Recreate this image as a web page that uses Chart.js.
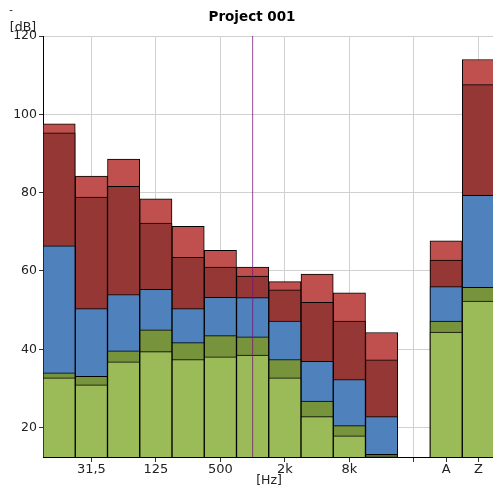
<!DOCTYPE html>
<html>
<head>
<meta charset="utf-8">
<script src="https://cdn.jsdelivr.net/npm/chart.js@4"></script>
<style>
html,body{margin:0;padding:0;background:#fff;overflow:hidden;}
#wrap{position:absolute;left:0;top:0;width:496px;height:488px;}
</style>
</head>
<body>
<div id="wrap"><canvas id="c" width="496" height="488"></canvas></div>
<script>
// Categories (octave bands + A / Z weighted totals)
const categories = ['16','31,5','63','125','250','500','1k','2k','4k','8k','16k','','A','Z'];
// Which category labels are shown on the axis
const shownLabels = ['31,5','125','500','2k','8k','A','Z'];
// Series values [dB] (each bar rises from the axis; smaller ones drawn in front)
const seriesL1 = [32.7, 30.9, 36.8, 39.4, 37.4, 38.1, 38.5, 32.7, 22.8, 17.9, 12.8, null, 44.4, 52.3];
const seriesL2 = [34.0, 33.1, 39.6, 45.0, 41.7, 43.5, 43.2, 37.4, 26.8, 20.5, 13.2, null, 47.2, 55.8];
const seriesL3 = [66.4, 50.4, 54.0, 55.3, 50.4, 53.3, 53.2, 47.2, 36.9, 32.3, 22.8, null, 56.0, 79.3];
const seriesL4 = [95.3, 78.9, 81.6, 72.2, 63.5, 61.0, 58.7, 55.2, 52.0, 47.2, 37.3, null, 62.8, 107.6];
const seriesL5 = [97.6, 84.2, 88.6, 78.4, 71.4, 65.3, 61.0, 57.3, 59.2, 54.4, 44.3, null, 67.7, 114.0];
// Y axis ticks
const yTicks = [20, 40, 60, 80, 100, 120];
const yMin = 12.5, yMax = 120;
// Marker band for the vertical line
const markerCategory = '1k';

const FONT = "'DejaVu Sans', Verdana, sans-serif";

const textPlugin = {
  id: 'texts',
  afterDatasetsDraw(chart) {
    const ctx = chart.ctx;
    const xs = chart.scales.x;
    const area = chart.chartArea;
    const xi = categories.indexOf(markerCategory);
    const px = xs.getPixelForValue(xi);
    ctx.save();
    ctx.strokeStyle = 'rgba(120,20,120,0.75)';
    ctx.lineWidth = 1;
    ctx.beginPath();
    ctx.moveTo(px, area.top);
    ctx.lineTo(px, area.bottom);
    ctx.stroke();
    ctx.restore();
  },
  afterDraw(chart) {
    const ctx = chart.ctx;
    ctx.save();
    ctx.fillStyle = '#000';
    ctx.textAlign = 'center';
    ctx.textBaseline = 'middle';
    ctx.font = "bold 13.5px " + FONT;
    ctx.fillText('Project 001', 252, 17.5);
    ctx.font = "12.5px " + FONT;
    ctx.fillStyle = '#222';
    ctx.fillText('[dB]', 23, 27.5);
    ctx.fillText('[Hz]', 269, 481);
    ctx.font = "10px " + FONT;
    ctx.fillText('-', 11, 10);
    ctx.restore();
  }
};

const mk = (label, data, color) => ({
  label, data,
  backgroundColor: color,
  borderColor: '#000',
  borderWidth: 1,
  borderSkipped: 'bottom',
  grouped: false,
  barPercentage: 1,
  categoryPercentage: 1
});

new Chart(document.getElementById('c'), {
  type: 'bar',
  data: {
    labels: categories,
    datasets: [
      mk('L1', seriesL1, '#9BBB59'),
      mk('L2', seriesL2, '#77933C'),
      mk('L3', seriesL3, '#4F81BD'),
      mk('L4', seriesL4, '#953735'),
      mk('L5', seriesL5, '#C0504D')
    ]
  },
  options: {
    responsive: false,
    animation: false,
    devicePixelRatio: 1,
    layout: { padding: { top: 36, right: 1.5, left: 0, bottom: 0 } },
    plugins: { legend: { display: false }, tooltip: { enabled: false }, title: { display: false } },
    scales: {
      x: {
        offset: true,
        afterFit(s) { s.height = 31; },
        grid: {
          offset: false,
          color: (c) => (c.index % 2 === 1 && c.index <= 13) ? '#d0d0d0' : 'rgba(0,0,0,0)',
          tickColor: (c) => {
            const l = categories[c.index];
            return (shownLabels.includes(l) || c.index === 11) ? '#333' : 'rgba(0,0,0,0)';
          },
          tickLength: 5,
          drawOnChartArea: true
        },
        border: { color: '#000', width: 1 },
        ticks: {
          autoSkip: false,
          maxRotation: 0,
          padding: 0,
          color: '#222',
          font: { family: FONT, size: 13 },
          callback: function(v, i) {
            const l = categories[i];
            return shownLabels.includes(l) ? l : '';
          }
        }
      },
      y: {
        min: yMin,
        max: yMax,
        afterFit(s) { s.width = 43; },
        afterBuildTicks(s) { s.ticks = yTicks.map(v => ({ value: v })); },
        grid: { color: '#d0d0d0', tickColor: '#333', tickLength: 4 },
        border: { color: '#000', width: 1 },
        ticks: {
          padding: 2,
          color: '#222',
          font: { family: FONT, size: 12.5 }
        }
      }
    }
  },
  plugins: [textPlugin]
});
</script>
</body>
</html>
